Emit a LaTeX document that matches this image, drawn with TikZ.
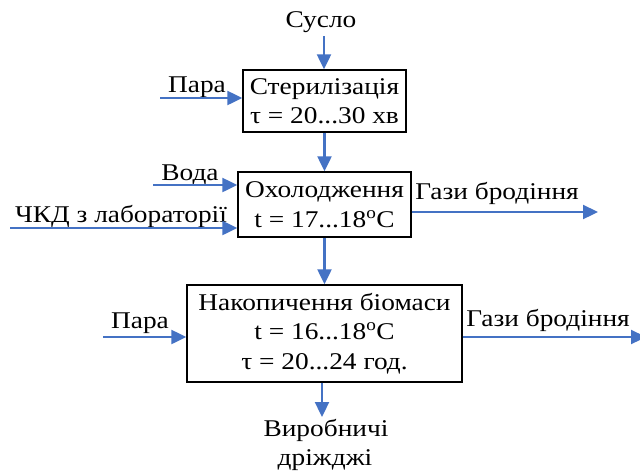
\documentclass[tikz,border=0pt]{standalone}
\usepackage{fontspec}
\setmainfont{Liberation Serif}[FakeStretch=1.14]
\usetikzlibrary{arrows.meta}
\definecolor{flowblue}{HTML}{4472C4}
\tikzset{
  flow/.style={draw=flowblue, line width=2.3pt, -{Triangle[length=15pt,width=14pt]}},
  procbox/.style={draw=black, line width=1.4pt, align=center, inner sep=0pt,
    font=\fontsize{24}{29.5}\selectfont},
  lbl/.style={anchor=base, inner sep=0pt, font=\fontsize{24}{29.5}\selectfont}
}
\begin{document}
\begin{tikzpicture}[x=1pt,y=-1pt]
\useasboundingbox (0,0) rectangle (640,475);
% boxes
\node[procbox, minimum width=163pt, minimum height=62pt] (b1) at (324.5,101) {Стерилізація\\τ = 20...30 хв};
\node[procbox, minimum width=173pt, minimum height=65pt] (b2) at (324.5,204.5) {Охолодження\\t = 17...18\textsuperscript{o}C};
\node[procbox, minimum width=275pt, minimum height=97pt] (b3) at (324.5,333.5) {Накопичення біомаси\\t = 16...18\textsuperscript{o}C\\τ = 20...24 год.};
% labels
\node[lbl] (lsuslo) at (321,27) {Сусло};
\node[lbl] (lpara1) at (197,92) {Пара};
\node[lbl] (lvoda) at (190,180) {Вода};
\node[lbl] (lckd) at (121,222) {ЧКД з лабораторії};
\node[lbl] (lgaz1) at (497,199) {Гази бродіння};
\node[lbl] (lpara2) at (140,328) {Пара};
\node[lbl] (lgaz2) at (548,326) {Гази бродіння};
\node[lbl] (lprod1) at (326,436) {Виробничі};
\node[lbl] (lprod2) at (325,465) {дріжджі};
% free ends
\coordinate (csuslo) at (324,36);
\coordinate (cpara1) at (160,98);
\coordinate (cvoda) at (153,185);
\coordinate (cckd) at (10,228);
\coordinate (cgaz1) at (598,212);
\coordinate (cpara2) at (103,337);
\coordinate (cgaz2) at (646,337);
\coordinate (cprod) at (322,417);
% connectors
\draw[flow] (csuslo) -- (csuslo |- b1.north);
\draw[flow] (cpara1) -- (cpara1 -| b1.west);
\draw[flow] (b1.south) -- (b2.north);
\draw[flow] (cvoda) -- (cvoda -| b2.west);
\draw[flow] (cckd) -- (cckd -| b2.west);
\draw[flow] (cgaz1 -| b2.east) -- (cgaz1);
\draw[flow] (b2.south) -- (b3.north);
\draw[flow] (cpara2) -- (cpara2 -| b3.west);
\draw[flow] (cgaz2 -| b3.east) -- (cgaz2);
\draw[flow] (cprod |- b3.south) -- (cprod);
\end{tikzpicture}
\end{document}
